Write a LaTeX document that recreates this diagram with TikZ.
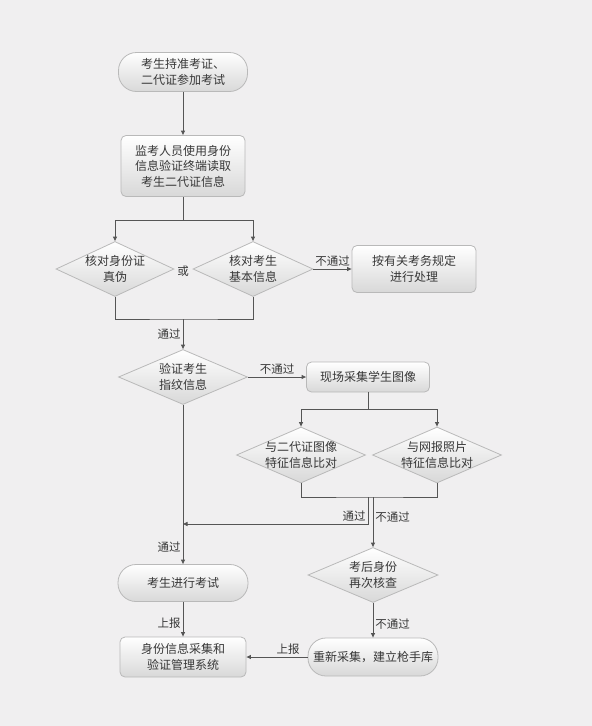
\documentclass[tikz,border=0pt]{standalone}
\usepackage{fontspec}
\setmainfont{Noto Sans CJK SC}
\usetikzlibrary{shapes.geometric,arrows.meta}
\definecolor{bg}{RGB}{240,239,240}
\definecolor{txt}{RGB}{55,55,55}
\definecolor{lncol}{RGB}{85,85,85}
\definecolor{bd}{RGB}{185,185,185}
\definecolor{shadebot}{RGB}{216,216,216}
\begin{document}
\begin{tikzpicture}[x=1pt,y=-1pt,
  font=\fontsize{12}{15.5}\selectfont, text=txt,
  box/.style={draw=bd, line width=0.8pt, top color=white, bottom color=shadebot, rounded corners=5pt, align=center, inner sep=0pt},
  pill/.style={box, rounded corners=18pt},
  dia/.style={diamond, draw=bd, line width=0.8pt, top color=white, bottom color=shadebot, inner sep=0pt},
  dlab/.style={align=center, text=txt, inner sep=0pt},
  conn/.style={draw=lncol, line width=0.9pt},
  arr/.style={conn, -{Triangle[length=4.5pt,width=4pt]}},
  lab/.style={font=\fontsize{11.5}{14}\selectfont, text=txt, inner sep=2pt}]
\fill[bg] (0,0) rectangle (592,726);
\useasboundingbox (0,0) rectangle (592,726);

% nodes
\node[pill, minimum width=129pt, minimum height=39pt] (start) at (183,72) {考生持准考证、\\二代证参加考试};
\node[box, minimum width=124pt, minimum height=61pt] (read) at (183,166) {监考人员使用身份\\信息验证终端读取\\考生二代证信息};
\node[dia, minimum width=118pt, minimum height=55pt, label={[dlab]center:{核对身份证\\真伪}}] (d1) at (115,269) {};
\node[dia, minimum width=120pt, minimum height=55pt, label={[dlab]center:{核对考生\\基本信息}}] (d2) at (253,269) {};
\node[lab] (or) at (183,271) {或};
\node[box, minimum width=124pt, minimum height=47pt] (rule) at (414,269) {按有关考务规定\\进行处理};
\node[dia, minimum width=129pt, minimum height=55pt, label={[dlab]center:{验证考生\\指纹信息}}] (fp) at (183,377) {};
\node[box, minimum width=123pt, minimum height=30pt] (img) at (368,377) {现场采集学生图像};
\node[dia, minimum width=129pt, minimum height=56pt, label={[dlab]center:{与二代证图像\\特征信息比对}}] (d3) at (301,455) {};
\node[dia, minimum width=129pt, minimum height=56pt, label={[dlab]center:{与网报照片\\特征信息比对}}] (d4) at (437,455) {};
\node[dia, minimum width=130pt, minimum height=55pt, label={[dlab]center:{考后身份\\再次核查}}] (d5) at (373,575) {};
\node[pill, minimum width=130pt, minimum height=37pt] (exam) at (183,583) {考生进行考试};
\node[box, minimum width=126pt, minimum height=40pt] (sys) at (183,657) {身份信息采集和\\验证管理系统};
\node[pill, minimum width=130pt, minimum height=38pt] (redo) at (373,657) {重新采集，建立枪手库};

% junctions
\coordinate (j1) at (183,220);
\coordinate (j2) at (183,319);
\coordinate (j3) at (368,409);
\coordinate (j4) at (370,497);
\coordinate (j4a) at (368,497);
\coordinate (j4b) at (373,497);
\coordinate (m1) at (183,524);

% connectors
\draw[arr] (start) -- (read);
\draw[conn] (read.south) -- (j1);
\draw[arr] (j1) -| (d1.north);
\draw[arr] (j1) -| (d2.north);
\draw[conn] (d1.south) |- (j2) -| (d2.south);
\draw[arr] (j2) -- node[lab, left] {通过} (fp.north);
\draw[arr] (d2.east) -- node[lab, above] {不通过} (rule.west);
\draw[arr] (fp.east) -- node[lab, above] {不通过} (img.west);
\draw[conn] (img.south) -- (j3);
\draw[arr] (j3) -| (d3.north);
\draw[arr] (j3) -| (d4.north);
\draw[conn] (d3.south) |- (j4) -| (d4.south);
\draw[arr] (fp.south) -- node[lab, left, pos=0.89] {通过} (exam.north);
\draw[arr] (j4a) |- node[lab, pos=0.5, anchor=south east] {通过} (m1);
\draw[arr] (j4b) -- node[lab, right, pos=0.4] {不通过} (d5.north);
\draw[arr] (d5.south) -- node[lab, right, pos=0.6] {不通过} (redo.north);
\draw[arr] (exam.south) -- node[lab, left, pos=0.6] {上报} (sys.north);
\draw[arr] (redo.west) -- node[lab, above, pos=0.32] {上报} (sys.east);
\end{tikzpicture}
\end{document}
